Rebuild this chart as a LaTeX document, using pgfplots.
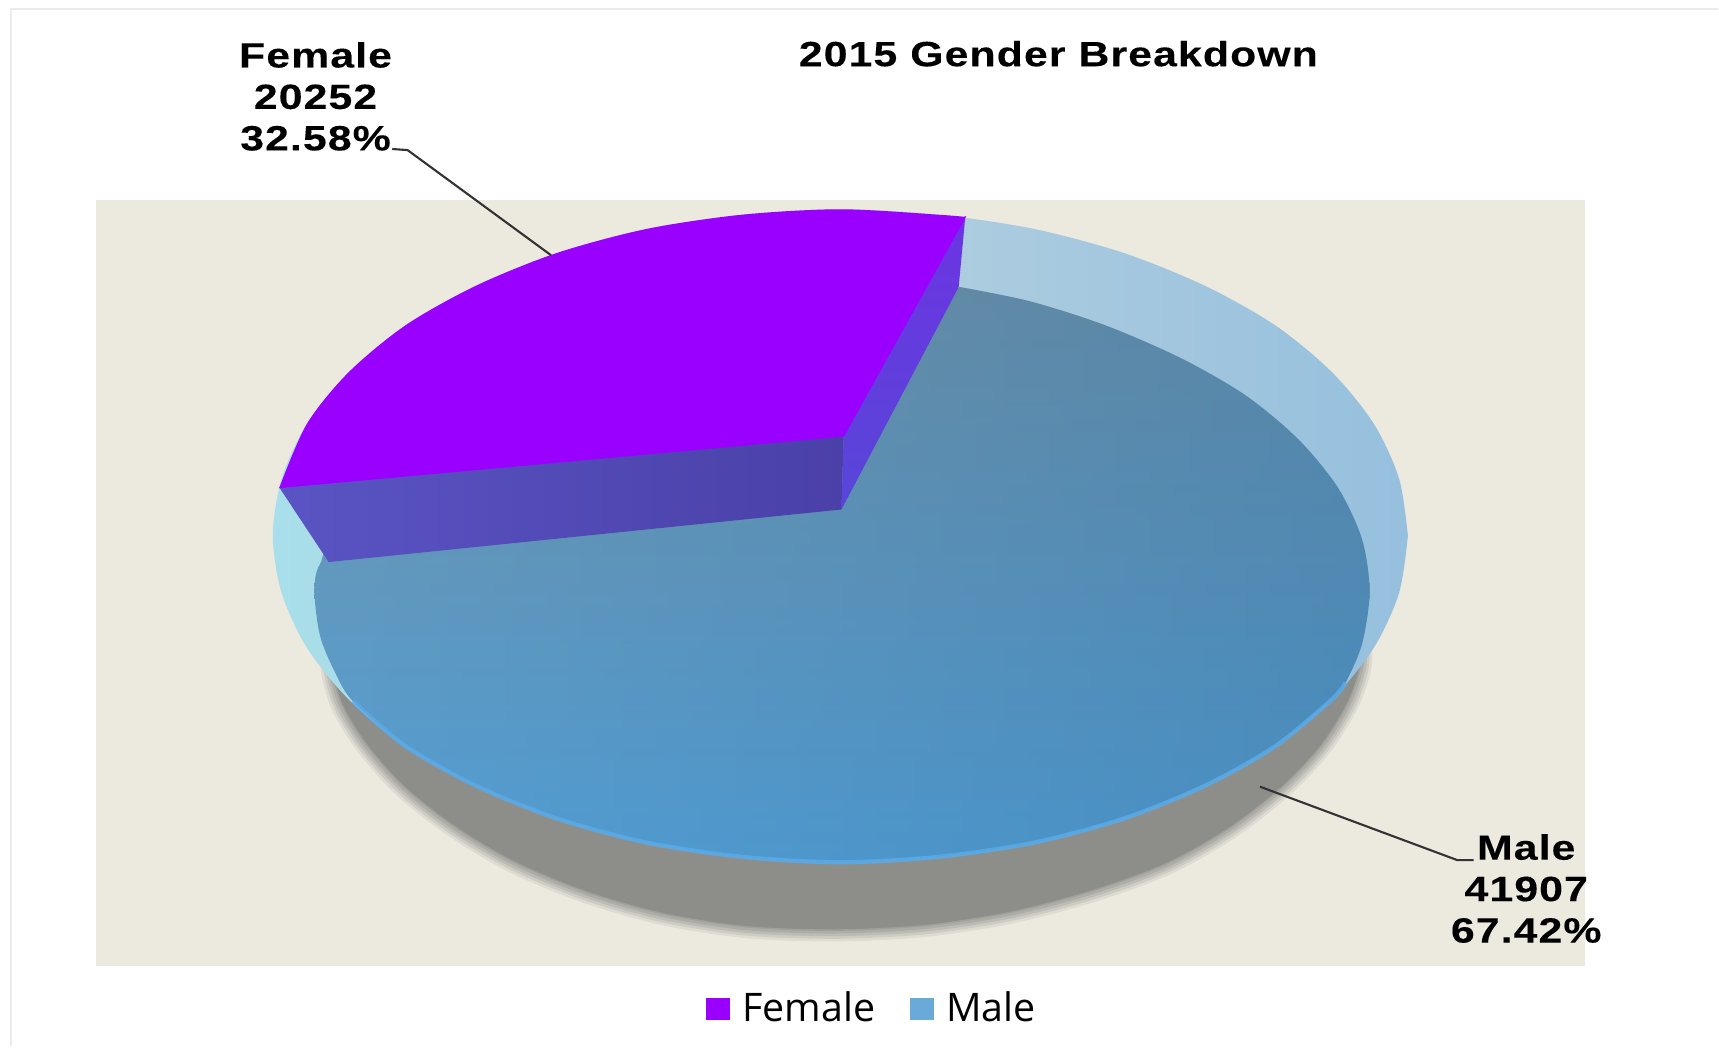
\documentclass[border=0pt]{standalone}
\usepackage{pgfplots}
\usepackage{pgfplotstable}
\pgfplotsset{compat=1.18}
\usepackage{fontspec}
\usetikzlibrary{fadings}
\setmainfont{Liberation Sans}
\newfontfamily\lab[FakeStretch=1.22,LetterSpace=3,FakeBold=0.12]{Liberation Sans Bold}
\newfontfamily\leg{Open Sans}
\definecolor{bg}{HTML}{ECE9DF}
\definecolor{purp}{HTML}{9900FF}
\definecolor{shad}{HTML}{8D8E8A}
\pgfplotstableread{
x y
1000 470
1200 530
1240 590
1232 635
1205 680
1168 719
1120 756
1063 788
994 813
921 832
843 844
762 848
681 845
605 833
535 813
470 786
416 754
369 717
333 676
310 635
305 590
340 530
500 470
1000 470
}\shadowtab
\begin{document}
\begin{tikzpicture}
\begin{axis}[
  scale only axis, width=17.19cm, height=10.47cm,
  xmin=0, xmax=1568, ymin=0, ymax=955, y dir=reverse,
  hide axis, clip=false,
  legend style={at={(axis cs:798,921)},anchor=center,legend columns=2,draw=none,fill=none,
    font=\leg\fontsize{11.2}{12}\selectfont,/tikz/every even column/.append style={column sep=0.274cm},
    inner sep=0pt},
  legend cell align=left,
  legend image code/.code={\fill[#1] (0cm,-0.11cm) rectangle (0.24cm,0.11cm);},
]
% page extent
\addplot[forget plot,draw=none] coordinates {(0,0)(1568,955)};
% frame
\addplot[forget plot,draw=black!8,line width=0.6pt] coordinates {(10,955)(10,8)(1568,8)};
% plot area
\addplot[forget plot,draw=none,fill=bg] coordinates {(88,183)(1447,183)(1447,882)(88,882)};
% shadow
\addplot[forget plot,smooth,draw=shad,fill=shad,opacity=0.15,line width=7pt,line join=round] table {\shadowtab};
\addplot[forget plot,smooth,draw=shad,fill=shad,opacity=0.2,line width=5.5pt,line join=round] table {\shadowtab};
\addplot[forget plot,smooth,draw=shad,fill=shad,opacity=0.25,line width=4pt,line join=round] table {\shadowtab};
\addplot[forget plot,smooth,draw=shad,fill=shad,opacity=0.3,line width=2.5pt,line join=round] table {\shadowtab};
\addplot[forget plot,smooth,draw=shad,fill=shad,opacity=0.4,line width=1pt,line join=round] table {\shadowtab};
\addplot[forget plot,smooth,draw=none,fill=shad] table {\shadowtab};
% outer ring (Male)
\addplot[forget plot,draw=none,smooth,
  left color={rgb,255:red,168;green,223;blue,234},right color={rgb,255:red,150;green,192;blue,222},middle color={rgb,255:red,178;green,207;blue,223}] coordinates {
(1285,489)(1277,541)(1254,591)(1216,638)(1164,681)(1100,717)(1026,747)(944,769)(857,782)(767,787)
(677,782)(590,769)(508,747)(434,717)(370,681)(318,638)(280,591)(257,541)(249,489)(257,437)
(280,387)(318,340)(370,297)(434,261)(508,231)(590,209)(677,196)(767,191)(857,196)(944,209)
(1026,231)(1100,261)(1164,297)(1216,340)(1254,387)(1277,437)(1285,489)};
% floor (Male)
\addplot[forget plot,draw=none,smooth,top color={rgb,255:red,112;green,146;blue,168},bottom color={rgb,255:red,84;green,160;blue,214}] coordinates {
(876,262)(940,275)(1009,297)(1078,327)(1137,361)(1185,401)(1221,445)(1243,492)(1250,540)(1243,588)(1228,623)
(1216,638)(1164,681)(1100,717)(1026,747)(944,769)(857,782)(767,787)(677,782)(590,769)(508,747)(434,717)(370,681)(322,640)
(305,612)(292,580)(287,540)(292,515)(320,485)(500,430)(700,400)(800,330)(850,280)(876,262)};
\addplot[forget plot,draw=none,smooth,fill={rgb,255:red,50;green,112;blue,160},fill opacity=0.38,path fading=west] coordinates {
(876,262)(940,275)(1009,297)(1078,327)(1137,361)(1185,401)(1221,445)(1243,492)(1250,540)(1243,588)(1228,623)
(1216,638)(1164,681)(1100,717)(1026,747)(944,769)(857,782)(767,787)(677,782)(590,769)(508,747)(434,717)(370,681)(322,640)
(305,612)(292,580)(287,540)(292,515)(320,485)(500,430)(700,400)(800,330)(850,280)(876,262)};
% bottom rim
\addplot[forget plot,smooth,draw={rgb,255:red,88;green,172;blue,236},line width=1.2pt,opacity=0.8] coordinates {
(1228,623)(1216,638)(1164,681)(1100,717)(1026,747)(944,769)(857,782)(767,787)(677,782)(590,769)(508,747)(434,717)(370,681)(322,640)};
% Female sides
\addplot[forget plot,draw=none,left color={rgb,255:red,90;green,84;blue,196},right color={rgb,255:red,74;green,64;blue,168}] coordinates {(255,445)(770,398)(768,465)(300,513)};
\addplot[forget plot,draw=none,top color={rgb,255:red,108;green,52;blue,226},bottom color={rgb,255:red,88;green,70;blue,216}] coordinates {(881,198)(875,262)(768,465)(770,398)};
% Female top
\addplot[forget plot,draw=none,fill=purp,smooth] coordinates {
(255,445)(280,387)(318,340)(370,297)(434,261)(508,231)(590,209)(677,196)(767,191)(857,196)(881,198)};
\addplot[forget plot,draw=purp,line width=0.3pt,fill=purp] coordinates {(255,445)(881,198)(770,398)(255,445)};
% leaders
\addplot[forget plot,draw=black!80,line width=0.6pt] coordinates {(358,136)(372,137)(503,233)};
\addplot[forget plot,draw=black!80,line width=0.6pt] coordinates {(1150,718)(1330,785)(1345,785)};
% legend
\addlegendimage{draw=none,fill=purp}
\addlegendentry{\hspace{0.055cm}Female}
\addlegendimage{draw=none,fill={rgb,255:red,106;green,170;blue,216}}
\addlegendentry{\hspace{0.055cm}Male}
% text
\node[font=\lab\fontsize{10}{11.8}\selectfont,align=center,text=black] at (axis cs:966,49) {2015 Gender Breakdown};
\node[font=\lab\fontsize{10}{11.8}\selectfont,align=center,text=black] at (axis cs:288,88) {Female\\20252\\32.58\%};
\node[font=\lab\fontsize{10}{11.8}\selectfont,align=center,text=black] at (axis cs:1393,811) {Male\\41907\\67.42\%};
\end{axis}
\end{tikzpicture}
\end{document}
